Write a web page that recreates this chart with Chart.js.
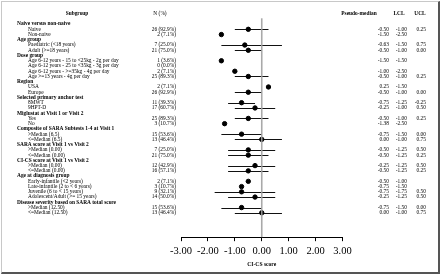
<!DOCTYPE html>
<html>
<head>
<meta charset="utf-8">
<script src="https://cdn.jsdelivr.net/npm/chart.js@4.4.1/dist/chart.umd.min.js"></script>
<style>
  body { margin: 0; background: #fff; }
  #wrap { position: relative; width: 440px; height: 275px; }
  #frame {
    position: absolute; left: 1px; top: 1px; width: 436px; height: 270px;
    border-top: 1px solid #c8c8c8; border-left: 1px solid #c8c8c8;
    border-right: 2px solid #555; border-bottom: 2px solid #555;
    pointer-events: none;
  }
  canvas { position: absolute; left: 0; top: 0; }
</style>
</head>
<body>
<div id="wrap">
  <canvas id="forest" width="440" height="275"></canvas>
  <div id="frame"></div>
</div>
<script>
// rows of the table, group titles have no N
const rowLabels = [
  "Naive versus non-naive", "Naive", "Non-naive",
  "Age group", "Paediatric (<18 years)", "Adult (>=18 years)",
  "Dose group", "Age 6-12 years - 15 to <25kg - 2g per day", "Age 6-12 years - 25 to <35kg - 3g per day",
  "Age 6-12 years - >=35kg - 4g per day", "Age >=13 years - 4g per day",
  "Region", "USA", "Europe",
  "Selected primary anchor test", "8MWT", "9HPT-D",
  "Miglustat at Visit 1 or Visit 2", "Yes", "No",
  "Composite of SARA Subtests 1-4 at Visit 1", ">Median (6.5)", "<=Median (6.5)",
  "SARA score at Visit 1 vs Visit 2", ">Median (0.00)", "<=Median (0.00)",
  "CI-CS score at Visit 1 vs Visit 2", ">Median (0.00)", "<=Median (0.00)",
  "Age at diagnosis group", "Early-infantile (<2 years)", "Late-infantile (2 to < 6 years)",
  "Juvenile (6 to < 15 years)", "Adolescent/Adult (>= 15 years)",
  "Disease severity based on SARA total score", ">Median (12.50)", "<=Median (12.50)"
];
const nCounts = [
  null, "26 (92.9%)", "2 (7.1%)",
  null, "7 (25.0%)", "21 (75.0%)",
  null, "1 (3.6%)", "0 (0.0%)", "2 (7.1%)", "25 (89.3%)",
  null, "2 (7.1%)", "26 (92.9%)",
  null, "11 (39.3%)", "17 (60.7%)",
  null, "25 (89.3%)", "3 (10.7%)",
  null, "15 (53.6%)", "13 (46.4%)",
  null, "7 (25.0%)", "21 (75.0%)",
  null, "12 (42.9%)", "16 (57.1%)",
  null, "2 (7.1%)", "3 (10.7%)", "9 (32.1%)", "14 (50.0%)",
  null, "15 (53.6%)", "13 (46.4%)"
];
const pseudoMedian = [
  null, -0.50, -1.50,
  null, -0.63, -0.50,
  null, -1.50, null, -1.00, -0.50,
  null, 0.25, -0.50,
  null, -0.75, -0.25,
  null, -0.50, -1.38,
  null, -0.75, 0.00,
  null, -0.50, -0.50,
  null, -0.25, -0.50,
  null, -0.50, -0.75, -0.75, -0.25,
  null, -0.75, 0.00
];
const lcl = [
  null, -1.00, -2.50,
  null, -1.50, -1.00,
  null, -1.50, null, -2.50, -1.00,
  null, -1.50, -1.00,
  null, -1.25, -1.00,
  null, -1.00, -2.50,
  null, -1.50, -1.00,
  null, -1.25, -1.25,
  null, -1.25, -1.25,
  null, -1.00, -1.50, -1.75, -1.25,
  null, -1.50, -1.00
];
const ucl = [
  null, 0.25, null,
  null, 0.75, 0.00,
  null, null, null, null, 0.25,
  null, null, 0.00,
  null, -0.25, 0.50,
  null, 0.25, null,
  null, 0.00, 0.75,
  null, 0.50, 0.25,
  null, 0.50, 0.25,
  null, null, null, 0.50, 0.50,
  null, 0.00, 0.75
];
const xTicks = [-3, -2, -1, 0, 1, 2, 3];

const fmt = (v) => (v === null ? "" : v.toFixed(2));

const points = [];
pseudoMedian.forEach((v, i) => {
  if (v !== null) points.push({ x: v, y: i });
});

// confidence intervals, only where both limits exist
const ciPlugin = {
  id: "ciLines",
  beforeDatasetsDraw(chart) {
    const { ctx, scales } = chart;
    ctx.save();
    ctx.strokeStyle = "#111";
    ctx.lineWidth = 1;
    rowLabels.forEach((_, i) => {
      if (lcl[i] === null || ucl[i] === null) return;
      const y = Math.round(scales.y.getPixelForValue(i)) + 0.5;
      ctx.beginPath();
      ctx.moveTo(scales.x.getPixelForValue(lcl[i]), y);
      ctx.lineTo(scales.x.getPixelForValue(ucl[i]), y);
      ctx.stroke();
    });
    ctx.restore();
  },
  afterDatasetsDraw(chart) {
    const { ctx, scales, chartArea } = chart;
    const x0 = scales.x.getPixelForValue(0);
    ctx.save();
    ctx.strokeStyle = "rgba(160,160,160,0.9)";
    ctx.lineWidth = 1.6;
    ctx.beginPath();
    ctx.moveTo(x0, chartArea.top);
    ctx.lineTo(x0, chartArea.bottom);
    ctx.stroke();
    ctx.restore();
  }
};

// table on both sides of the plot
const tablePlugin = {
  id: "table",
  afterDraw(chart) {
    const { ctx, scales } = chart;
    ctx.save();
    ctx.fillStyle = "#000";
    ctx.textBaseline = "middle";
    const fs = 5.4;
    const hy = 14;
    ctx.font = "bold " + fs + "px 'Liberation Serif'";
    ctx.textAlign = "center";
    ctx.fillText("Subgroup", 77, hy);
    ctx.font = fs + "px 'Liberation Serif'";
    ctx.fillText("N (%)", 160, hy);
    ctx.font = "bold " + fs + "px 'Liberation Serif'";
    ctx.fillText("Pseudo-median", 359, hy);
    ctx.fillText("LCL", 399, hy);
    ctx.fillText("UCL", 420, hy);

    rowLabels.forEach((label, i) => {
      const y = scales.y.getPixelForValue(i);
      if (nCounts[i] === null) {
        ctx.font = "bold " + fs + "px 'Liberation Serif'";
        ctx.textAlign = "left";
        ctx.fillText(label, 17, y);
        return;
      }
      ctx.font = fs + "px 'Liberation Serif'";
      ctx.textAlign = "left";
      ctx.fillText(label, 28, y);
      ctx.textAlign = "right";
      ctx.fillText(nCounts[i], 176, y);
      ctx.fillText(fmt(pseudoMedian[i]), 389, y);
      ctx.fillText(fmt(lcl[i]), 407, y);
      ctx.fillText(fmt(ucl[i]), 426, y);
    });
    ctx.restore();
  }
};

new Chart(document.getElementById("forest").getContext("2d"), {
  type: "scatter",
  data: {
    datasets: [{
      data: points,
      backgroundColor: "#000",
      borderColor: "#000",
      pointRadius: 2.2,
      pointHoverRadius: 2.2
    }]
  },
  options: {
    responsive: false,
    animation: false,
    layout: { padding: { left: 181, right: 97.5, top: 18.3, bottom: 1.5 } },
    plugins: { legend: { display: false }, tooltip: { enabled: false } },
    scales: {
      x: {
        type: "linear",
        min: -3,
        max: 3,
        afterBuildTicks: (axis) => { axis.ticks = xTicks.map((v) => ({ value: v })); },
        ticks: {
          padding: 3.5,
          color: "#000",
          maxRotation: 0,
          minRotation: 0,
          autoSkip: false,
          font: { family: "'Liberation Serif'", size: 10.5 },
          callback: (v) => Number(v).toFixed(2)
        },
        grid: { drawOnChartArea: false, drawTicks: true, tickLength: 4, color: "#000" },
        border: { display: true, color: "#000", width: 1 },
        title: {
          display: true,
          text: "CI-CS score",
          color: "#000",
          font: { family: "'Liberation Serif'", size: 5.6, weight: "bold" },
          padding: { top: 0, bottom: 6 }
        }
      },
      y: {
        type: "linear",
        display: false,
        reverse: true,
        min: -1.1,
        max: 40.65
      }
    }
  },
  plugins: [ciPlugin, tablePlugin]
});
</script>
</body>
</html>
